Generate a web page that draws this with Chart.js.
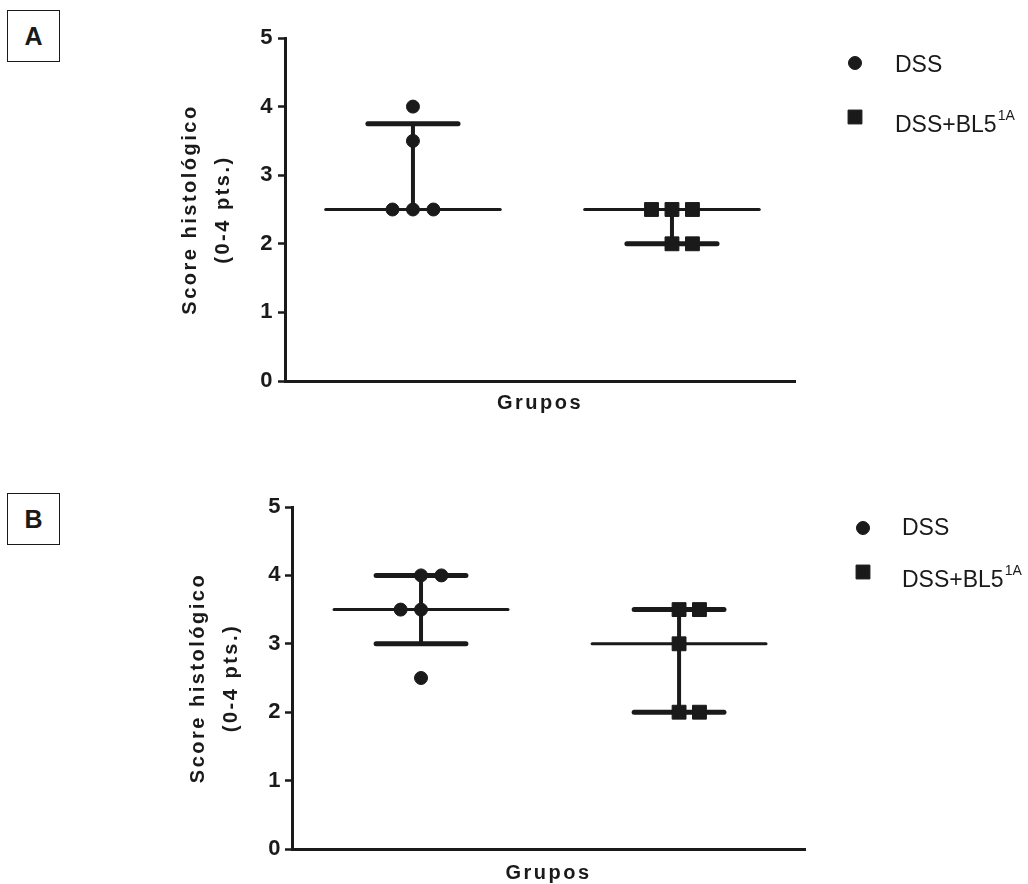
<!DOCTYPE html>
<html>
<head>
<meta charset="utf-8">
<title>Score histológico</title>
<script src="https://cdn.jsdelivr.net/npm/chart.js@4.4.1/dist/chart.umd.min.js"></script>
<style>
  html, body { margin: 0; padding: 0; background: #fff; overflow: hidden; }
  body { width: 1028px; height: 884px; position: relative; font-family: "Liberation Sans", Arial, Helvetica, sans-serif; }
  .tag {
    position: absolute; left: 7px; width: 51px; height: 50px;
    border: 1.5px solid #1a1a1a; color: #1a1a1a;
    font: bold 25px "Liberation Sans", Arial, sans-serif;
    display: flex; align-items: center; justify-content: center;
  }
  .panel { position: absolute; left: 0; }
</style>
</head>
<body>
<div class="tag" style="top:10px">A</div>
<div class="tag" style="top:493px">B</div>
<div class="panel" style="top:0"><canvas id="chartA" width="1028" height="440"></canvas></div>
<div class="panel" style="top:460px"><canvas id="chartB" width="1028" height="430"></canvas></div>
<script>
// groups, in column order
const groupNames = ['DSS', 'DSS+BL5'];
const groupSup = ['', '1A'];

// y axis ticks
const yTicks = [0, 1, 2, 3, 4, 5];

// histological scores, panel A
const scoresA_DSS = [4.0, 3.5, 2.5, 2.5, 2.5];
const scoresA_BL5 = [2.5, 2.5, 2.5, 2.0, 2.0];

// histological scores, panel B
const scoresB_DSS = [4.0, 4.0, 3.5, 3.5, 2.5];
const scoresB_BL5 = [3.5, 3.5, 3.0, 2.0, 2.0];

// column spread of tied scores: -1 left, 0 centre, 1 right
const spreadA_DSS = [0, 0, -1, 0, 1];
const spreadA_BL5 = [-1, 0, 1, 0, 1];
const spreadB_DSS = [0, 1, -1, 0, 0];
const spreadB_BL5 = [0, 1, 0, 0, 1];

const INK = '#1a1a1a';
const FONT = '"Liberation Sans", Arial, Helvetica, sans-serif';
const DOT_STEP = 0.079;      // x distance between tied dots
const MEDIAN_HALF = 0.337;   // half width of the median bar
const IQR_HALF = 0.174;      // half width of the quartile bars

Chart.defaults.font.family = FONT;
Chart.defaults.color = INK;

// quartiles the way Prism computes them: (n+1)p with interpolation
function quantile(values, p) {
  const s = [...values].sort((a, b) => a - b);
  const pos = (s.length + 1) * p;
  const lo = Math.min(Math.max(Math.floor(pos), 1), s.length);
  const hi = Math.min(lo + 1, s.length);
  const frac = pos - Math.floor(pos);
  return s[lo - 1] + (s[hi - 1] - s[lo - 1]) * frac;
}

// axis titles are set with a bit of tracking
const spacedText = {
  id: 'spacedText',
  beforeDraw(chart) { chart.ctx.letterSpacing = '2.5px'; }
};

// median with interquartile range behind the dots
const medianBars = {
  id: 'medianBars',
  beforeDatasetsDraw(chart) {
    const { ctx, scales: { x, y } } = chart;
    ctx.save();
    ctx.strokeStyle = INK;
    ctx.lineCap = 'round';
    const hline = (c, v, half, w) => {
      ctx.lineWidth = w;
      ctx.beginPath();
      ctx.moveTo(x.getPixelForValue(c - half), y.getPixelForValue(v));
      ctx.lineTo(x.getPixelForValue(c + half), y.getPixelForValue(v));
      ctx.stroke();
    };
    chart.data.datasets.forEach((ds, g) => {
      const vals = ds.data.map(p => p.y);
      const c = g + 1;
      const med = quantile(vals, 0.5);
      const q1 = quantile(vals, 0.25);
      const q3 = quantile(vals, 0.75);
      ctx.lineWidth = 4;
      ctx.beginPath();
      ctx.moveTo(x.getPixelForValue(c), y.getPixelForValue(q1));
      ctx.lineTo(x.getPixelForValue(c), y.getPixelForValue(q3));
      ctx.stroke();
      if (q1 !== med) hline(c, q1, IQR_HALF, 5);
      if (q3 !== med) hline(c, q3, IQR_HALF, 5);
      hline(c, med, MEDIAN_HALF, 3);
    });
    ctx.restore();
  }
};

// legend to the right of the plot, with superscript support
const sideLegend = {
  id: 'sideLegend',
  afterDraw(chart, args, opts) {
    const ctx = chart.ctx;
    ctx.save();
    ctx.letterSpacing = '0px';
    ctx.fillStyle = INK;
    ctx.strokeStyle = INK;
    ctx.lineWidth = 1;
    chart.data.datasets.forEach((ds, g) => {
      const y = opts.rows[g];
      Chart.helpers.drawPoint(ctx, {
        pointStyle: ds.pointStyle, radius: ds.pointRadius, borderWidth: 1, rotation: 0
      }, opts.markerX, y);
      const base = opts.baselines[g];
      ctx.textBaseline = 'alphabetic';
      ctx.textAlign = 'left';
      ctx.font = '23px ' + FONT;
      ctx.fillText(ds.label, opts.textX, base);
      if (groupSup[g]) {
        const w = ctx.measureText(ds.label).width;
        ctx.font = '14px ' + FONT;
        ctx.fillText(groupSup[g], opts.textX + w + 1, base - 12);
      }
    });
    ctx.restore();
  }
};

const markerStyles = ['circle', 'rect'];
const markerRadius = [6.5, 9.8];

function scatterPanel(canvasId, scores, spreads, lay) {
  const datasets = groupNames.map((name, g) => ({
    label: name,
    data: scores[g].map((v, i) => ({ x: g + 1 + spreads[g][i] * DOT_STEP, y: v })),
    pointStyle: markerStyles[g],
    pointRadius: markerRadius[g],
    backgroundColor: INK,
    borderColor: INK,
    borderWidth: 1
  }));
  return new Chart(document.getElementById(canvasId), {
    type: 'scatter',
    data: { datasets },
    options: {
      responsive: false,
      animation: false,
      events: [],
      layout: { padding: { left: 150, top: lay.top, right: lay.right, bottom: 0 } },
      scales: {
        x: {
          type: 'linear',
          min: lay.xMin,
          max: lay.xMax,
          grid: { display: false },
          border: { display: true, color: INK, width: 3 },
          ticks: { display: false },
          title: {
            display: true, text: 'Grupos', color: INK,
            font: { size: 20, weight: 'bold', lineHeight: 1.2 },
            padding: { top: 0, bottom: lay.xTitlePad }
          },
          afterFit(scale) { scale.height = lay.xAxisHeight; }
        },
        y: {
          min: yTicks[0],
          max: yTicks[yTicks.length - 1],
          ticks: {
            stepSize: 1, color: INK, padding: lay.tickPad,
            font: { size: 22, weight: 'bold' }
          },
          grid: {
            drawOnChartArea: false, drawTicks: true,
            tickLength: 7, tickWidth: 2.5, tickColor: INK
          },
          border: { display: true, color: INK, width: 3 },
          title: {
            display: true, text: ['Score histológico', '(0-4 pts.)'], color: INK,
            font: { size: 20, weight: 'bold', lineHeight: 1.65 },
            padding: { top: lay.yTitlePad, bottom: 0 }
          },
          afterFit(scale) { scale.width = lay.yAxisWidth; }
        }
      },
      plugins: {
        legend: { display: false },
        tooltip: { enabled: false },
        sideLegend: lay.legend
      }
    },
    plugins: [spacedText, medianBars, sideLegend]
  });
}

scatterPanel('chartA', [scoresA_DSS, scoresA_BL5], [spreadA_DSS, spreadA_BL5], {
  top: 38, right: 233, xMin: 0.506, xMax: 2.475,
  yAxisWidth: 135, yTitlePad: 23.5, tickPad: 3,
  xAxisHeight: 59, xTitlePad: 25,
  legend: { markerX: 855, textX: 895, rows: [63, 117], baselines: [72, 132] }
});

scatterPanel('chartB', [scoresB_DSS, scoresB_BL5], [spreadB_DSS, spreadB_BL5], {
  top: 47, right: 223, xMin: 0.5, xMax: 2.488,
  yAxisWidth: 142, yTitlePad: 31.5, tickPad: 2,
  xAxisHeight: 41, xTitlePad: 5,
  legend: { markerX: 863, textX: 902, rows: [68, 112], baselines: [75, 127] }
});
</script>
</body>
</html>
